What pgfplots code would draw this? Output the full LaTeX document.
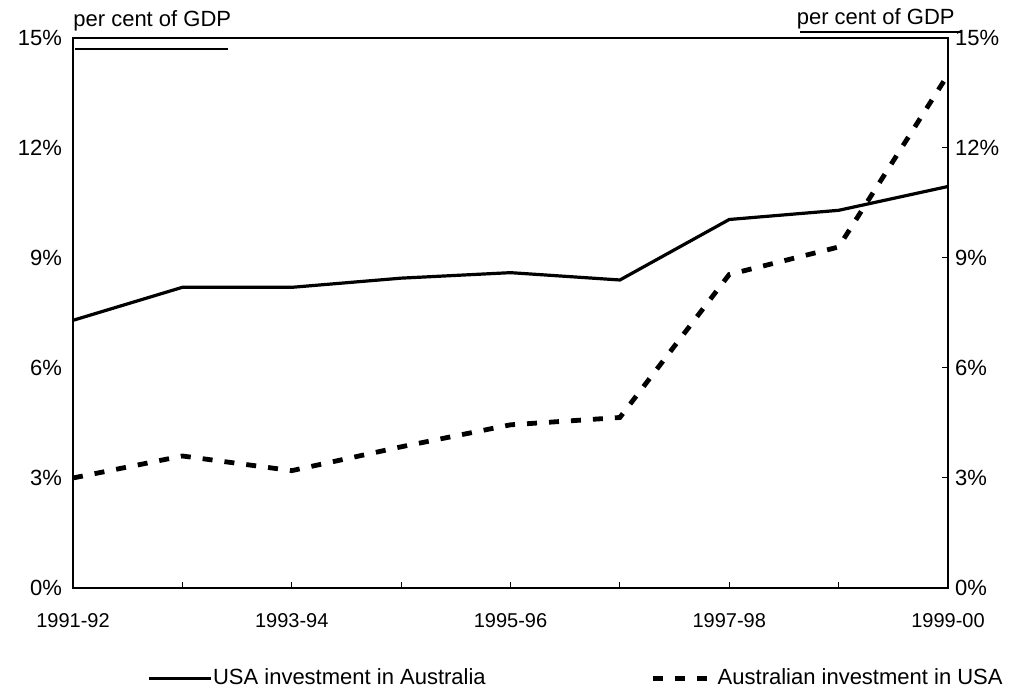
\documentclass[border=0pt]{standalone}
\usepackage{fontspec}
\setmainfont{Liberation Sans}
\usepackage{pgfplots}
\pgfplotsset{compat=1.18}
\begin{document}
\begin{tikzpicture}
\pgfplotsset{
  common/.style={scale only axis, width=437.5pt, height=275pt,
    xmin=0, xmax=8, ymin=0, ymax=15,
    ytick={0,3,...,15},
    yticklabel={\pgfmathprintnumber{\tick}\%},
    /pgf/number format/assume math mode=true,
    ticklabel style={font=\fontsize{10}{12}\selectfont},
    yticklabel style={font=\fontsize{11}{13}\selectfont},
    tick align=inside, major tick length=3pt,
    tick style={black, line width=0.5pt},
  }
}
\begin{axis}[common, name=main, clip=false,
  axis line style={black, line width=0.8pt},
  xtick={0,...,8},
  xticklabels={1991-92,,1993-94,,1995-96,,1997-98,,1999-00},
  xticklabel style={yshift=-9pt},
  ytick pos=left, xtick pos=bottom,
  ytick style={draw=none},
  yticklabel style={xshift=-2pt},
  legend style={at={(0.574,-0.145)}, anchor=north, draw=none, fill=none,
    legend columns=2, font=\fontsize{11}{13}\selectfont,
    /tikz/every even column/.append style={column sep=82pt},
    legend cell align=left, inner sep=0pt, nodes={inner sep=0.3pt}},
  legend image code/.code={\draw[#1] (0pt,0pt) -- (31pt,0pt);},
]
\addplot[black, line width=1.6pt] coordinates {
  (0,7.3) (1,8.2) (2,8.2) (3,8.45) (4,8.6) (5,8.4) (6,10.05) (7,10.3) (8,10.95)};
\addlegendentry{USA investment in Australia}
\addplot[black, line width=2.4pt, dash pattern=on 5pt off 6pt] coordinates {
  (0,3.0) (1,3.6) (2,3.2) (3,3.85) (4,4.45) (5,4.65) (6,8.55) (7,9.3) (8,14.0)};
\addlegendentry{Australian investment in USA}
\draw[black, line width=1pt] (axis cs:0.02,14.7) -- (axis cs:1.42,14.7);
\draw[black, line width=1pt] (axis cs:6.65,15.16) -- (axis cs:8.13,15.16);
\node[anchor=south west, inner sep=0pt, font=\fontsize{11}{13}\selectfont] at ([yshift=3.5pt]rel axis cs:0,1) {per cent of GDP};
\node[anchor=south east, inner sep=0pt, font=\fontsize{11}{13}\selectfont] at ([xshift=3.5pt,yshift=4.5pt]rel axis cs:1,1) {per cent of GDP};
\end{axis}
\begin{axis}[common,
  axis x line=none, axis y line*=right,
  axis line style={black, line width=0.8pt},
  xtick=\empty,
]
\end{axis}
\pgfresetboundingbox
\path ([xshift=-36.5pt,yshift=-55.5pt]main.south west) rectangle ([xshift=33pt,yshift=19pt]main.north east);
\end{tikzpicture}
\end{document}
